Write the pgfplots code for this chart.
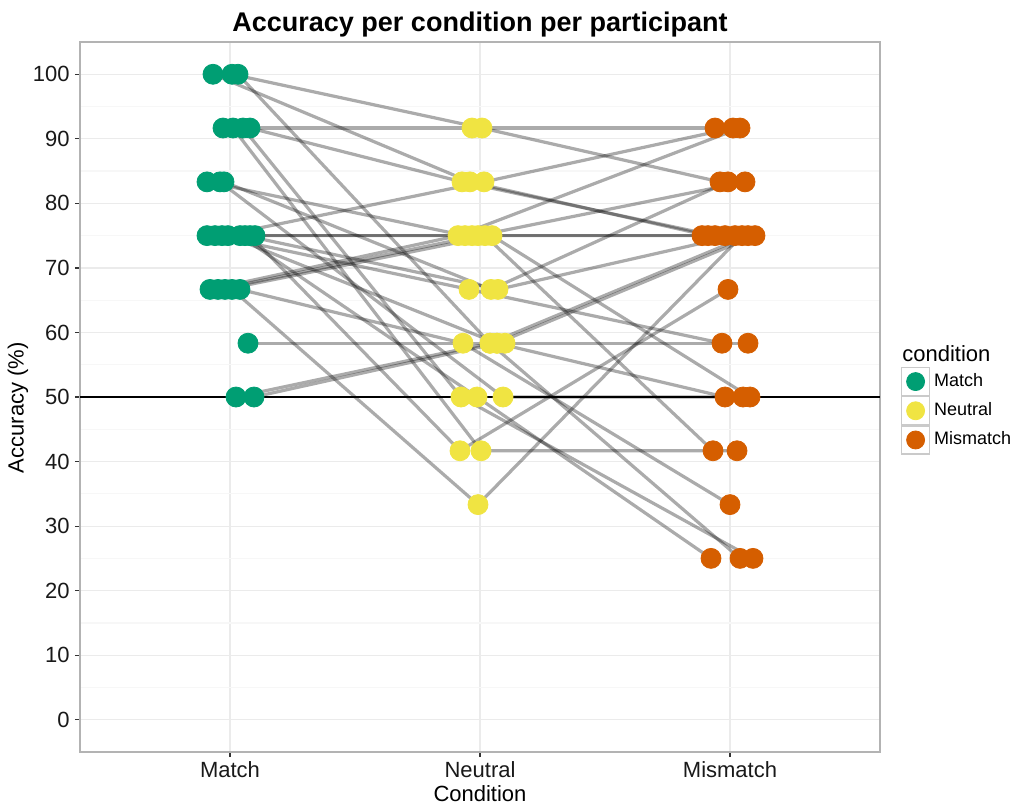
\documentclass[border=0pt]{standalone}
\usepackage{pgfplots}
\pgfplotsset{compat=1.18}
\usepackage{pgfplotstable}
\usepackage{fontspec}
\setmainfont{Liberation Sans}
\definecolor{cmatch}{HTML}{009E73}
\definecolor{cneutral}{HTML}{F0E442}
\definecolor{cmismatch}{HTML}{D55E00}
\definecolor{gridmaj}{HTML}{EBEBEB}
\definecolor{gridmin}{HTML}{F7F7F7}
\definecolor{bordergray}{HTML}{B3B3B3}
\definecolor{tickgray}{HTML}{333333}

% one row per participant: jittered x and accuracy for Match, Neutral, Mismatch
\pgfplotstableread{
mx    my     nx    ny     xx    xy
1.008 100.00 2.008 91.67  2.960 83.33
0.932 100.00 1.960 83.33  2.912 75.00
1.032 100.00 2.040 58.33  3.040 25.00
0.972 91.67  1.968 91.67  2.940 91.67
1.080 91.67  1.928 83.33  2.940 75.00
1.052 91.67  1.924 50.00  3.092 25.00
1.012 91.67  2.004 41.67  3.028 41.67
0.908 83.33  1.940 75.00  2.888 75.00
0.960 83.33  2.092 50.00  3.052 50.00
0.976 83.33  2.044 66.67  2.992 83.33
0.908 75.00  1.968 75.00  2.980 75.00
0.940 75.00  1.956 66.67  2.968 58.33
0.968 75.00  2.016 83.33  3.012 91.67
0.992 75.00  2.068 58.33  2.980 50.00
1.040 75.00  1.988 50.00  2.924 25.00
1.060 75.00  2.072 66.67  3.020 75.00
1.080 75.00  1.920 41.67  2.992 66.67
1.100 75.00  2.020 75.00  2.932 41.67
0.920 66.67  1.912 75.00  3.040 91.67
0.952 66.67  1.992 75.00  3.060 83.33
0.980 66.67  2.048 75.00  3.080 50.00
1.008 66.67  1.992 33.33  3.048 75.00
1.040 66.67  1.932 58.33  3.000 33.33
1.072 58.33  2.100 58.33  3.072 58.33
1.024 50.00  2.040 58.33  3.072 75.00
1.096 50.00  2.068 58.33  3.100 75.00
}\data

\begin{document}
\begin{tikzpicture}
\useasboundingbox (-40pt,-26.5pt) rectangle (468pt,376pt);
\begin{axis}[
  name=ax,
  at={(0,0)}, anchor=south west,
  scale only axis, width=400pt, height=355pt,
  xmin=0.4, xmax=3.6, ymin=-5, ymax=105,
  xtick={1,2,3}, xticklabels={Match,Neutral,Mismatch},
  ytick={0,10,...,100}, minor ytick={5,15,...,95},
  xmajorgrids, ymajorgrids, yminorgrids,
  major grid style={gridmaj, line width=0.6pt},
  minor grid style={gridmin, line width=0.6pt},
  axis line style={bordergray, line width=0.8pt},
  tick pos=left,
  tick align=outside, major tick length=2.5pt, minor tick length=0pt,
  tick style={tickgray, line width=0.6pt},
  /pgf/number format/assume math mode=true,
  tick label style={font=\fontsize{11}{13}\selectfont, color=black!90},
  yticklabel style={anchor=east, inner sep=0pt, xshift=-2.5pt},
  xticklabel style={anchor=base, inner sep=0pt, yshift=-10pt},
  title={Accuracy per condition per participant},
  title style={font=\bfseries\fontsize{13.5}{16}\selectfont, at={(axis description cs:0.5,1)}, anchor=base, yshift=-0.75pt, inner sep=0pt},
  xlabel={Condition},
  xlabel style={font=\fontsize{11}{13}\selectfont, at={(axis description cs:0.5,0)}, anchor=base, yshift=-24.5pt, inner sep=0pt},
  ylabel={Accuracy (\%)},
  ylabel style={font=\fontsize{11}{13}\selectfont, at={(axis description cs:-0.0775,0.485)}, anchor=center, inner sep=0pt},
  legend cell align=left,
  legend style={at={(axis description cs:1.02625,0.5423)}, anchor=north west, draw=none, fill=none,
    inner sep=0pt, outer sep=0pt, row sep=0pt, font=\fontsize{9}{11}\selectfont,
    nodes={inner xsep=2pt, inner ysep=0pt, anchor=west}},
  legend image code/.code={
    \draw[bordergray!70, fill=white, line width=0.6pt] (0pt,-7pt) rectangle (14pt,7pt);
    \draw[mark size=4.5pt] plot coordinates {(7pt,0pt)};
  },
]
\addplot[only marks, mark=*, mark size=5pt, color=cmatch] table[x=mx, y=my]{\data};
\addlegendentry{Match}
\addplot[only marks, mark=*, mark size=5pt, color=cneutral] table[x=nx, y=ny]{\data};
\addlegendentry{Neutral}
\addplot[only marks, mark=*, mark size=5pt, color=cmismatch] table[x=xx, y=xy]{\data};
\addlegendentry{Mismatch}
\addplot[forget plot, black, line width=0.75pt] coordinates {(0.4,50) (3.6,50)};
\pgfplotsforeachungrouped \i in {0,...,25}{%
  \pgfplotstablegetelem{\i}{mx}\of\data\let\vmx\pgfplotsretval
  \pgfplotstablegetelem{\i}{my}\of\data\let\vmy\pgfplotsretval
  \pgfplotstablegetelem{\i}{nx}\of\data\let\vnx\pgfplotsretval
  \pgfplotstablegetelem{\i}{ny}\of\data\let\vny\pgfplotsretval
  \pgfplotstablegetelem{\i}{xx}\of\data\let\vxx\pgfplotsretval
  \pgfplotstablegetelem{\i}{xy}\of\data\let\vxy\pgfplotsretval
  \edef\cmd{\noexpand\addplot[forget plot, mark=none, black, opacity=0.33, line width=1.6pt, line join=round] coordinates {(\vmx,\vmy) (\vnx,\vny) (\vxx,\vxy)};}%
  \cmd
}
\end{axis}
\node[anchor=base west, font=\fontsize{11}{13}\selectfont, inner sep=0pt] at ([xshift=11pt, yshift=195.5pt]ax.south east) {condition};
\end{tikzpicture}
\end{document}
